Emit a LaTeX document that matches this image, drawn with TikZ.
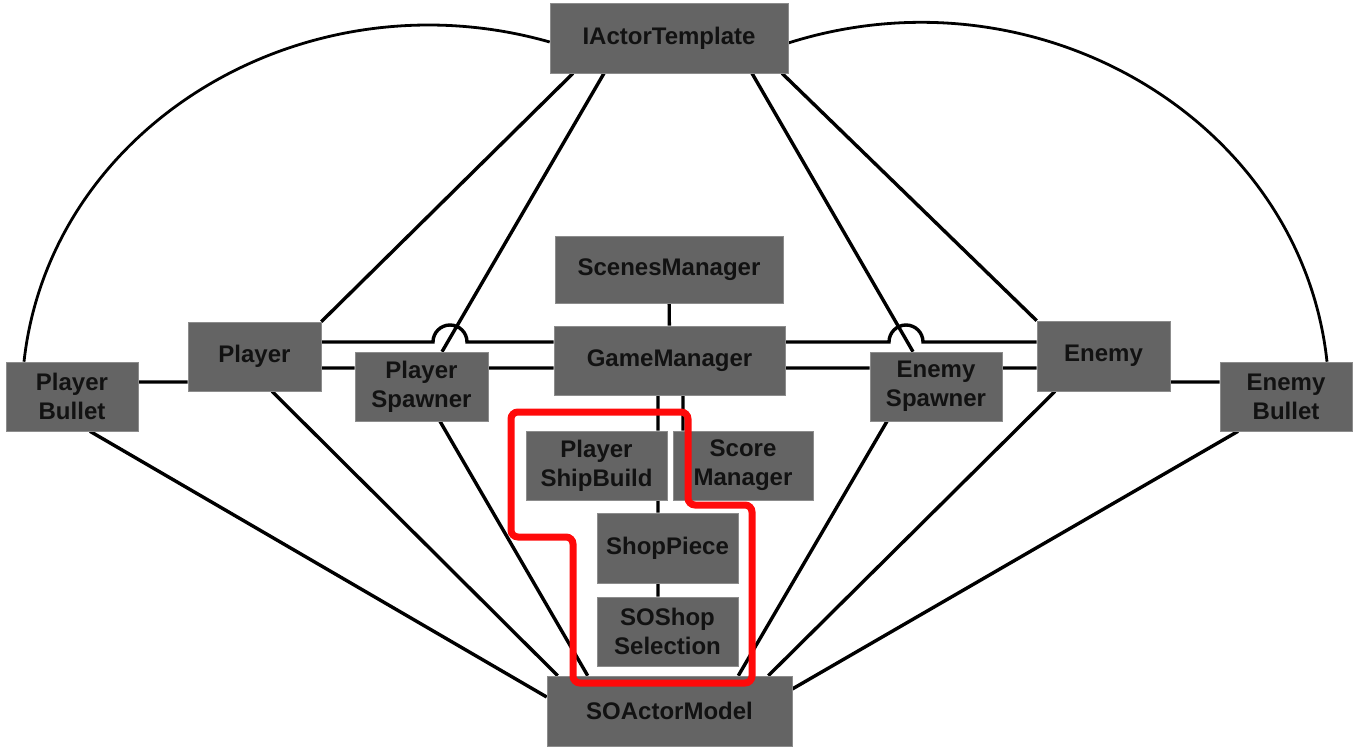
\documentclass[tikz,border=0pt]{standalone}
\usepackage{fontspec}
\setmainfont{Liberation Sans}
\usepackage{tikz}
\usetikzlibrary{
    backgrounds,
    calc
}
\definecolor{boxgray}{HTML}{646464}
\definecolor{boxedge}{HTML}{8C8C8C}
\definecolor{boxtext}{HTML}{121212}
\definecolor{hired}{HTML}{FF0A0A}
\newcommand{\boxfont}{\fontsize{24}{29}\selectfont\bfseries}

\begin{document}
\begin{tikzpicture}[x=1pt, y=-1pt,
    box/.style={rectangle, fill=boxgray, draw=boxedge, line width=0.6pt, text=boxtext, font=\boxfont, align=center, inner sep=0pt},
    link/.style={draw=black, line width=3.4pt},
    bow/.style={draw=black, line width=2.8pt},
    hilite/.style={draw=hired, line width=7pt, rounded corners=7pt}]
    \useasboundingbox (0, 0) rectangle (1357, 749);
    \node[box, minimum width=238pt, minimum height=70pt] (iat) at (669, 38) {IActorTemplate};
    \node[box, minimum width=228pt, minimum height=67pt] (scenes) at (669, 269.5) {ScenesManager};
    \node[box, minimum width=231pt, minimum height=69pt] (game) at (669.5, 360.5) {GameManager};
    \node[box, minimum width=133pt, minimum height=69pt] (player) at (254.5, 356.5) {Player};
    \node[box, minimum width=132pt, minimum height=69pt] (pbullet) at (72, 396.5) {Player\\Bullet};
    \node[box, minimum width=133pt, minimum height=69pt] (pspawn) at (421.5, 386.5) {Player\\Spawner};
    \node[box, minimum width=132pt, minimum height=69pt] (espawn) at (936, 386.5) {Enemy\\Spawner};
    \node[box, minimum width=133pt, minimum height=70pt] (enemy) at (1103.5, 356) {Enemy};
    \node[box, minimum width=132pt, minimum height=69pt] (ebullet) at (1286, 396.5) {Enemy\\Bullet};
    \node[box, minimum width=141pt, minimum height=69pt] (shipbuild) at (596.5, 465.5) {Player\\ShipBuild};
    \node[box, minimum width=140pt, minimum height=69pt] (score) at (743, 465.5) {Score\\Manager};
    \node[box, minimum width=141pt, minimum height=70pt] (shoppiece) at (667.5, 548) {ShopPiece};
    \node[box, minimum width=141pt, minimum height=69pt] (soshop) at (667.5, 631.5) {SOShop\\Selection};
    \node[box, minimum width=245pt, minimum height=70pt] (soactor) at (669.5, 711) {SOActorModel};
    \coordinate (upper) at (0, 342);
    \coordinate (lower) at (0, 368);
    \coordinate (bulletrow) at (0, 382);
    \coordinate (shipcol) at (658, 0);
    \coordinate (scorecol) at (683, 0);
    \begin{pgfonlayer}{background}
        \draw[link]
        (scenes) -- (game)
        (game.south -| shipcol) -- (shipbuild.north -| shipcol)
        (shipbuild.south -| shipcol) -- (shoppiece.north -| shipcol)
        (shoppiece.south -| shipcol) -- (soshop.north -| shipcol)
        (game.south -| scorecol) -- (score.north -| scorecol)
        (pbullet.east |- bulletrow) -- (player.west |- bulletrow)
        (enemy.east |- bulletrow) -- (ebullet.west |- bulletrow)
        (player.east |- lower) -- (pspawn.west |- lower)
        (pspawn.east |- lower) -- (game.west |- lower)
        (game.east |- lower) -- (espawn.west |- lower)
        (espawn.east |- lower) -- (enemy.west |- lower)
        (player.east |- upper) -- (433, 342) arc[start angle=180, end angle=0, radius=17pt] -- (game.west |- upper)
        (game.east |- upper) -- (889, 342) arc[start angle=180, end angle=0, radius=17pt] -- (enemy.west |- upper)
        ([xshift=-96pt]iat.south) -- (player.north east)
        ([xshift=-65pt]iat.south) -- ([xshift=20.5pt]pspawn.north)
        ([xshift=83pt]iat.south) -- ([xshift=-23pt]espawn.north)
        ([xshift=113pt]iat.south) -- (enemy.north west)
        ([xshift=18pt]pbullet.south) -- ([yshift=14pt]soactor.west)
        ([xshift=17.5pt]player.south) -- ([xshift=11pt]soactor.north west)
        ([xshift=18.5pt]pspawn.south) -- ([xshift=41pt]soactor.north west)
        ([xshift=-49pt]espawn.south) -- ([xshift=-54pt]soactor.north east)
        ([xshift=-48.5pt]enemy.south) -- ([xshift=-24pt]soactor.north east)
        ([xshift=-48pt]ebullet.south) -- ([yshift=22pt]soactor.east);
        \draw[bow]
        ([xshift=-48pt]pbullet.north) .. controls (50, 126) and (304, -28) .. ([yshift=-4pt]iat.west)
        ([yshift=-5pt]iat.east) .. controls (1037, -36) and (1301, 120) .. ([xshift=41pt]ebullet.north);
    \end{pgfonlayer}
    \draw[hilite] (511, 412) -- (688, 412) -- (688, 505) -- (752, 505) -- (752, 683) -- (573, 683) -- (573, 537) -- (511, 537) -- cycle;
\end{tikzpicture}
\end{document}
